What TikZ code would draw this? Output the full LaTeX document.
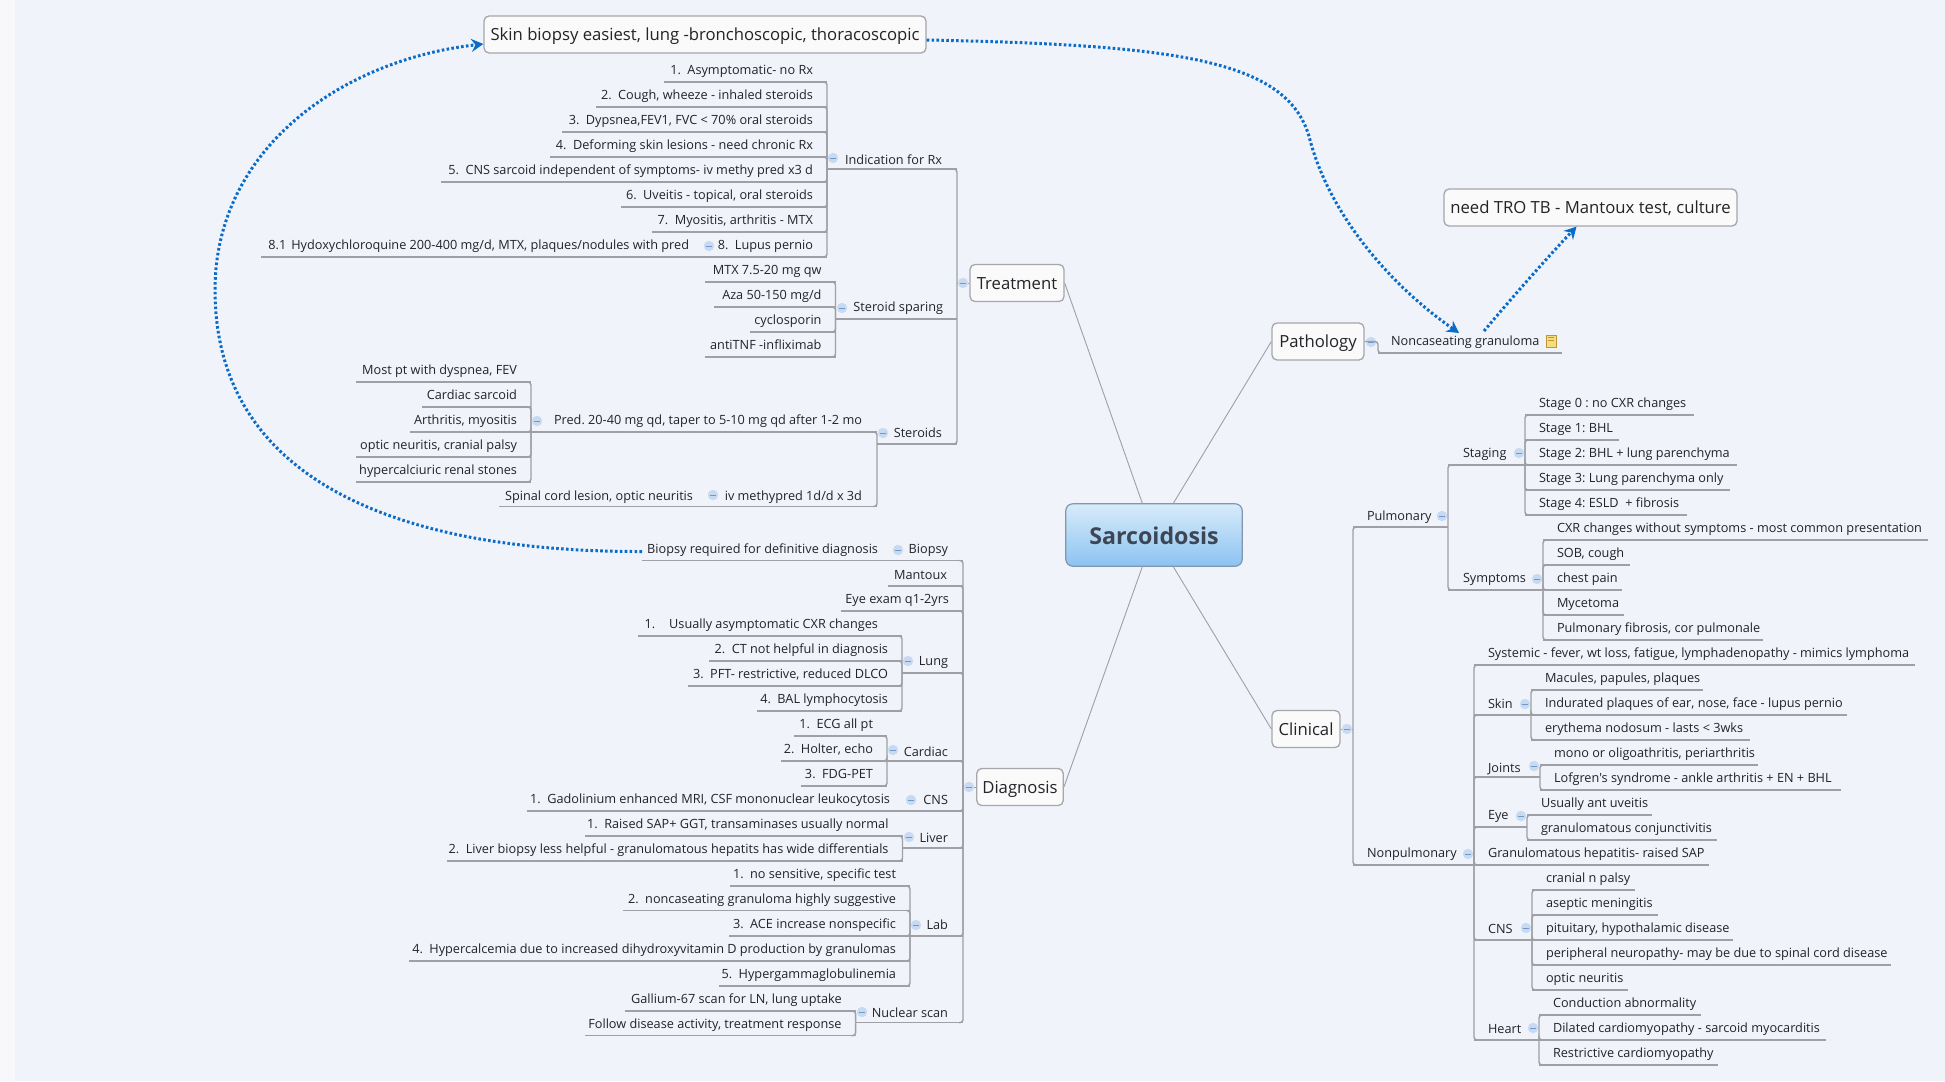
\documentclass[tikz,border=0pt]{standalone}
\usepackage{fontspec}
\setmainfont{Open Sans}
\newfontfamily\opn{Open Sans}
\frenchspacing
\usetikzlibrary{arrows.meta,calc}
\definecolor{bgc}{RGB}{240,243,250}
\definecolor{stripc}{RGB}{248,248,251}
\definecolor{linec}{RGB}{158,160,166}
\definecolor{boxe}{RGB}{165,167,172}
\definecolor{boxf}{RGB}{250,250,250}
\definecolor{txtc}{RGB}{35,35,40}
\definecolor{bluec}{RGB}{10,108,200}
\definecolor{mfill}{RGB}{200,218,242}
\definecolor{medge}{RGB}{115,150,200}
\definecolor{notee}{RGB}{190,150,50}
\definecolor{notef}{RGB}{245,222,130}
\definecolor{sartop}{RGB}{216,235,250}
\definecolor{sarbot}{RGB}{140,195,242}
\definecolor{saredge}{RGB}{130,150,175}
\definecolor{sartxt}{RGB}{60,70,85}
\tikzset{
 x=1pt,y=-1pt,
 ul/.style={draw=linec,line width=1.4pt},
 conn/.style={draw=linec,line width=1.4pt,rounded corners=3pt},
 thinl/.style={draw=linec,line width=.9pt},
 leaf/.style={inner sep=0pt,outer sep=0pt,minimum height=24pt,anchor=south west,text=txtc,font=\fontsize{12.7}{14}\selectfont,text height=13pt,text depth=3.5pt},
 topic/.style={draw=boxe,fill=boxf,line width=1.3pt,rounded corners=5pt,inner sep=0pt,text=txtc,font=\fontsize{16.7}{20}\selectfont,text height=14.5pt,text depth=2pt},
 marker/.style={circle,fill=mfill,draw=mfill,inner sep=0pt,minimum size=10pt,line width=.3pt,
   path picture={\draw[medge,line width=.8pt] ([xshift=2.4pt]path picture bounding box.west) -- ([xshift=-2.4pt]path picture bounding box.east);}},
 dotln/.style={draw=bluec,line width=3pt,dash pattern=on 2.6pt off 2.3pt,-{Stealth[length=12pt,width=13pt,inset=4pt]}},
}
\newcommand\lfL[6]{% name xl xr y pad text
 \pgfmathsetlengthmacro\ww{#3-(#2)}
 \node[leaf] (#1) at (#2,#4) {\makebox[\ww][r]{#6\hspace*{#5pt}}};
 \draw[ul] (#1.south west) -- (#1.south east);}
\newcommand\lfR[6]{%
 \pgfmathsetlengthmacro\ww{#3-(#2)}
 \node[leaf] (#1) at (#2,#4) {\makebox[\ww][l]{\hspace*{#5pt}#6}};
 \draw[ul] (#1.south west) -- (#1.south east);}
\newcommand\cL[2]{\draw[conn] (#1.south west) |- ([xshift=-4pt]#2.south east);}
\newcommand\cR[2]{\draw[conn] (#1.south east) |- ([xshift=4pt]#2.south west);}
\newcommand\mk[3]{\node[marker] (#1) at (#2,#3) {};}
\newcommand\num[1]{#1.\hspace{6.5pt}}
\newcommand\dn[2]{\raisebox{-#1pt}{#2}}
\begin{document}
\begin{tikzpicture}
\path[fill=bgc] (0,0) rectangle (1945,1081);
\path[fill=stripc] (0,0) rectangle (15,1081);
\useasboundingbox (0,0) rectangle (1945,1081);

% central & topics
\node[draw=none,minimum width=176pt,minimum height=62pt,inner sep=0pt] (sar) at (1154,535) {};
\shade[top color=sartop,bottom color=sarbot,rounded corners=7pt,draw=none] (sar.south west) rectangle (sar.north east);
\draw[draw=saredge,rounded corners=7pt,line width=1.2pt] (sar.south west) rectangle (sar.north east);
\node[font=\fontsize{23.2}{26}\selectfont\bfseries,text=sartxt] (sart) at (1154,536) {Sarcoidosis};
\node[topic,minimum width=94pt,minimum height=37pt] (treat) at (1017,283) {Treatment};
\node[topic,minimum width=86.5pt,minimum height=37pt] (diag) at (1020,787) {Diagnosis};
\node[topic,minimum width=92pt,minimum height=37pt] (patho) at (1318,341.5) {Pathology};
\node[topic,minimum width=68pt,minimum height=37pt] (clin) at (1306,729) {Clinical};
\node[topic,minimum width=442pt,minimum height=37pt] (skinb) at (705,34.5) {Skin biopsy easiest, lung -bronchoscopic, thoracoscopic};
\node[topic,minimum width=293pt,minimum height=37pt] (tro) at (1590.5,207.5) {need TRO TB - Mantoux test, culture};
\draw[thinl] ([xshift=-11.5pt]sar.north) -- (treat.east);
\draw[thinl] ([xshift=19pt]sar.north) -- (patho.west);
\draw[thinl] ([xshift=-11.5pt]sar.south) -- (diag.east);
\draw[thinl] ([xshift=19pt]sar.south) -- (clin.west);

% Treatment side
\coordinate (tsp) at (957,283);
\coordinate (dsp) at (963,787);
\coordinate (csp) at (1353,729);
\lfL{ind}{827}{957}{169}{15}{\dn{3}{Indication for Rx}}
\lfL{sts}{835.5}{957}{319}{14}{Steroid sparing}
\lfL{ste}{877}{957}{444}{15}{\dn{1}{Steroids}}
\draw[thinl] (treat.west) -- (tsp);
\draw[conn] (tsp) |- ([xshift=-4pt]ind.south east);
\draw[conn] (tsp) |- ([xshift=-4pt]ste.south east);
\mk{m1}{963}{283}
\mk{m2}{833}{158}
\mk{m3}{842}{308}
\mk{m4}{883}{433}

\lfL{i1}{664}{827}{82}{14}{\num{1}Asymptomatic- no Rx}
\lfL{i2}{596}{827}{107}{14}{\num{2}Cough, wheeze - inhaled steroids}
\lfL{i3}{562}{827}{132}{14}{\num{3}Dypsnea,FEV1, FVC < 70\% oral steroids}
\lfL{i4}{550}{827}{157}{14}{\num{4}Deforming skin lesions - need chronic Rx}
\lfL{i5}{441}{827}{182}{14}{\num{5}CNS sarcoid independent of symptoms- iv methy pred x3 d}
\lfL{i6}{621}{827}{207}{14}{\num{6}Uveitis - topical, oral steroids}
\lfL{i7}{652}{827}{232}{14}{\num{7}Myositis, arthritis - MTX}
\lfL{i8}{703}{827}{257}{14}{\num{8}Lupus pernio}
\lfL{i81}{261}{703}{257}{14}{8.1\hspace{5pt}Hydoxychloroquine 200-400 mg/d, MTX, plaques/nodules with pred}
\mk{m5}{709}{246}
\foreach \c in {i1,i2,i3,i4,i5,i6,i7,i8}{\cL{ind}{\c}}

\lfL{s1}{705}{835.5}{282}{14}{MTX 7.5-20 mg qw}
\lfL{s2}{714}{835.5}{307}{14}{Aza 50-150 mg/d}
\lfL{s3}{750}{835.5}{332}{14}{cyclosporin}
\lfL{s4}{705}{835.5}{357}{14}{antiTNF -infliximab}
\foreach \c in {s1,s2,s3,s4}{\cL{sts}{\c}}

\lfL{pred}{531}{877}{432}{15}{Pred. 20-40 mg qd, taper to 5-10 mg qd after 1-2 mo}
\lfL{iv}{719}{877}{506.5}{15}{\dn{1}{iv methypred 1d/d x 3d}}
\lfL{spin}{499}{719}{506.5}{26}{\dn{1}{Spinal cord lesion, optic neuritis}}
\mk{m6}{537}{421}
\mk{m7}{713}{495}
\cL{ste}{pred}
\cL{ste}{iv}
\lfL{p1}{356}{531}{382}{14}{Most pt with dyspnea, FEV}
\lfL{p2}{422}{531}{407}{14}{Cardiac sarcoid}
\lfL{p3}{410}{531}{432}{14}{Arthritis, myositis}
\lfL{p4}{356}{531}{457}{14}{optic neuritis, cranial palsy}
\lfL{p5}{356}{531}{482}{14}{hypercalciuric renal stones}
\foreach \c in {p1,p2,p3,p4,p5}{\cL{pred}{\c}}

% Diagnosis side
\lfL{bio}{892}{963}{560.5}{15}{Biopsy}
\lfL{biot}{642}{892}{560.5}{14}{Biopsy required for definitive diagnosis}
\mk{m8}{898}{550}
\lfL{man}{888}{963}{586}{16}{\dn{1}{Mantoux}}
\lfL{eyex}{841}{963}{611}{14}{Eye exam q1-2yrs}
\lfL{lung}{902}{963}{673}{15}{Lung}
\mk{m9}{908}{661}
\lfL{card}{887}{963}{761}{15}{\dn{2.5}{Cardiac}}
\mk{m10}{893}{750}
\lfL{cns}{905}{963}{811}{15}{\dn{1}{CNS}}
\mk{m11}{911}{800}
\lfL{liv}{902.5}{963}{848}{15}{\dn{2}{Liver}}
\mk{m12}{909}{837}
\lfL{lab}{910}{963}{936}{15}{\dn{1}{Lab}}
\mk{m13}{916}{925}
\lfL{nuc}{855.6}{963}{1022.6}{15}{\dn{2.5}{Nuclear scan}}
\mk{m14}{862}{1012}
\draw[thinl] (diag.west) -- (dsp);
\foreach \c in {bio,man,eyex,lung,card,cns,liv,lab,nuc}{\draw[conn] (dsp) |- ([xshift=-4pt]\c.south east);}
\mk{m15}{969}{787}

\lfL{l1}{638}{902}{636}{24}{1.\hspace{14pt}Usually asymptomatic CXR changes}
\lfL{l2}{709}{902}{661}{14}{\num{2}CT not helpful in diagnosis}
\lfL{l3}{688}{902}{686}{14}{\num{3}PFT- restrictive, reduced DLCO}
\lfL{l4}{757}{902}{711}{14}{\num{4}BAL lymphocytosis}
\foreach \c in {l1,l2,l3,l4}{\cL{lung}{\c}}
\lfL{c1}{794}{887}{736}{14}{\num{1}ECG all pt}
\lfL{c2}{781}{887}{761}{14}{\num{2}Holter, echo}
\lfL{c3}{800.5}{887}{786}{14}{\num{3}FDG-PET}
\foreach \c in {c1,c2,c3}{\cL{card}{\c}}
\lfL{n1}{526.5}{905}{811}{15}{\num{1}Gadolinium enhanced MRI, CSF mononuclear leukocytosis}
\lfL{v1}{585}{902.5}{836}{14}{\num{1}Raised SAP+ GGT, transaminases usually normal}
\lfL{v2}{447}{902.5}{861}{14}{\num{2}Liver biopsy less helpful - granulomatous hepatits has wide differentials}
\foreach \c in {v1,v2}{\cL{liv}{\c}}
\lfL{a1}{730}{910}{886}{14}{\num{1}no sensitive, specific test}
\lfL{a2}{623}{910}{910.5}{14}{\num{2}noncaseating granuloma highly suggestive}
\lfL{a3}{729}{910}{936}{14}{\num{3}ACE increase nonspecific}
\lfL{a4}{409}{910}{961}{14}{\num{4}Hypercalcemia due to increased dihydroxyvitamin D production by granulomas}
\lfL{a5}{719}{910}{986}{14}{\num{5}Hypergammaglobulinemia}
\foreach \c in {a1,a2,a3,a4,a5}{\cL{lab}{\c}}
\lfL{g1}{625}{855.6}{1011}{14}{Gallium-67 scan for LN, lung uptake}
\lfL{g2}{585}{855.6}{1035.6}{14}{Follow disease activity, treatment response}
\foreach \c in {g1,g2}{\cL{nuc}{\c}}

% Pathology
\lfR{nonc}{1378}{1562}{353}{13}{Noncaseating granuloma}
\mk{m16}{1371}{342}
\draw[conn] (patho.east) -| (nonc.south west) -- ([xshift=4pt]nonc.south west);
\node[draw=notee,fill=notef,line width=.7pt,minimum width=10pt,minimum height=12pt,inner sep=0pt] (note) at (1551,341) {};
\draw[notee,line width=.6pt] ([xshift=2pt,yshift=-3pt]note.north west) -- ([xshift=-2pt,yshift=-3pt]note.north east) ([xshift=2pt,yshift=-6pt]note.north west) -- ([xshift=-2pt,yshift=-6pt]note.north east);

% Clinical
\lfR{pul}{1353}{1448}{527}{14}{\dn{1}{Pulmonary}}
\lfR{npul}{1353}{1474}{865}{14}{Nonpulmonary}
\draw[thinl] (clin.east) -- (csp);
\draw[conn] (csp) |- ([xshift=4pt]pul.south west);
\draw[conn] (csp) |- ([xshift=4pt]npul.south west);
\mk{m17}{1347}{729}
\mk{m18}{1442}{516}
\mk{m19}{1468}{854}

\lfR{stag}{1448}{1525}{465}{15}{Staging}
\lfR{symp}{1448}{1543}{590}{15}{Symptoms}
\cR{pul}{stag}\cR{pul}{symp}
\mk{m20}{1519}{453}
\mk{m21}{1537}{579}
\lfR{t0}{1525}{1694}{415}{14}{Stage 0 : no CXR changes}
\lfR{t1}{1525}{1619}{440}{14}{Stage 1: BHL}
\lfR{t2}{1525}{1737}{465}{14}{Stage 2: BHL + lung parenchyma}
\lfR{t3}{1525}{1730}{490}{14}{Stage 3: Lung parenchyma only}
\lfR{t4}{1525}{1687}{515}{14}{Stage 4: ESLD\ \ + fibrosis}
\foreach \c in {t0,t1,t2,t3,t4}{\cR{stag}{\c}}
\lfR{y0}{1543}{1928}{540}{14}{CXR changes without symptoms - most common presentation}
\lfR{y1}{1543}{1630}{565}{14}{SOB, cough}
\lfR{y2}{1543}{1622}{590}{14}{chest pain}
\lfR{y3}{1543}{1624}{615}{14}{Mycetoma}
\lfR{y4}{1543}{1763}{640}{14}{Pulmonary fibrosis, cor pulmonale}
\foreach \c in {y0,y1,y2,y3,y4}{\cR{symp}{\c}}

\lfR{sy}{1474}{1915}{665}{14}{Systemic - fever, wt loss, fatigue, lymphadenopathy - mimics lymphoma}
\lfR{sk}{1474}{1531}{715}{14}{\dn{1}{Skin}}
\lfR{jo}{1474}{1540}{777}{14}{\dn{2.5}{Joints}}
\lfR{ey}{1474}{1527}{827}{14}{Eye}
\lfR{gh}{1474}{1709}{865}{14}{Granulomatous hepatitis- raised SAP}
\lfR{cn}{1474}{1532}{940}{14}{\dn{1}{CNS}}
\lfR{he}{1474}{1539}{1040}{14}{\dn{1}{Heart}}
\foreach \c in {sy,sk,jo,ey,gh,cn,he}{\cR{npul}{\c}}
\mk{m22}{1525}{704}
\mk{m23}{1534}{766}
\mk{m24}{1521}{816}
\mk{m25}{1526}{928}
\mk{m26}{1533}{1028}
\lfR{k1}{1531}{1703}{690}{14}{Macules, papules, plaques}
\lfR{k2}{1531}{1847}{715}{14}{Indurated plaques of ear, nose, face - lupus pernio}
\lfR{k3}{1531}{1750}{740}{14}{erythema nodosum - lasts < 3wks}
\foreach \c in {k1,k2,k3}{\cR{sk}{\c}}
\lfR{j1}{1540}{1758}{765}{14}{mono or oligoathritis, periarthritis}
\lfR{j2}{1540}{1841}{790}{14}{{\opn Lofgren's} syndrome - ankle arthritis + EN + BHL}
\foreach \c in {j1,j2}{\cR{jo}{\c}}
\lfR{e1}{1527}{1652}{815}{14}{Usually ant uveitis}
\lfR{e2}{1527}{1717}{840}{14}{granulomatous conjunctivitis}
\foreach \c in {e1,e2}{\cR{ey}{\c}}
\lfR{o1}{1532}{1635}{890}{14}{cranial n palsy}
\lfR{o2}{1532}{1658}{915}{14}{aseptic meningitis}
\lfR{o3}{1532}{1733}{940}{14}{pituitary, hypothalamic disease}
\lfR{o4}{1532}{1891}{965}{14}{peripheral neuropathy- may be due to spinal cord disease}
\lfR{o5}{1532}{1628}{990}{14}{optic neuritis}
\foreach \c in {o1,o2,o3,o4,o5}{\cR{cn}{\c}}
\lfR{h1}{1539}{1701}{1015}{14}{Conduction abnormality}
\lfR{h2}{1539}{1826}{1040}{14}{Dilated cardiomyopathy - sarcoid myocarditis}
\lfR{h3}{1539}{1718}{1065}{14}{Restrictive cardiomyopathy}
\foreach \c in {h1,h2,h3}{\cR{he}{\c}}

% relationships
\coordinate (r1s) at ([yshift=9pt]biot.south west);
\coordinate (r1m) at (215,290);
\coordinate (r2m) at (1310,140);
\coordinate (r2e) at (1459,333);
\coordinate (r3s) at (1484,331);
\draw[dotln] (r1s) .. controls (380,552) and (215,470) .. (r1m) .. controls (215,150) and (340,60) .. ([yshift=-9.5pt]skinb.west);
\draw[dotln] ([yshift=-5.5pt]skinb.east) .. controls (1180,45) and (1290,60) .. (r2m) .. controls (1330,215) and (1390,285) .. (r2e);
\draw[dotln] (r3s) .. controls (1510,300) and (1545,260) .. ([xshift=-14pt]tro.south);
\end{tikzpicture}
\end{document}
